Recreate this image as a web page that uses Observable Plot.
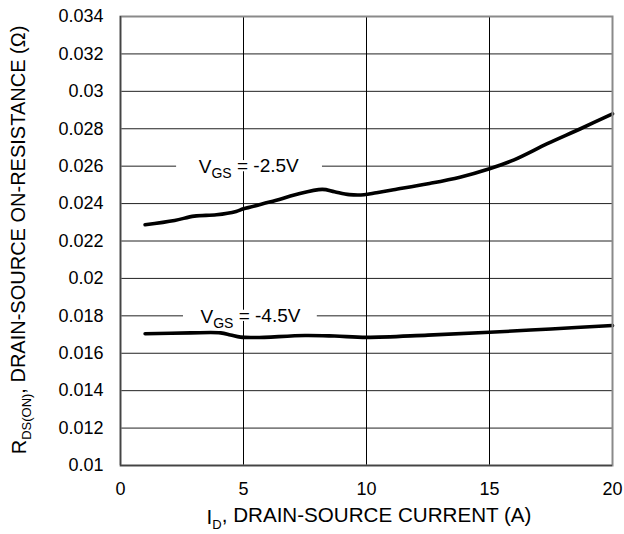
<!DOCTYPE html>
<html>
<head>
<meta charset="utf-8">
<script src="https://cdn.jsdelivr.net/npm/d3@7"></script>
<script src="https://cdn.jsdelivr.net/npm/@observablehq/plot@0.6"></script>
<style>
  html, body { margin: 0; padding: 0; background: #fff; }
  #chart { width: 624px; height: 534px; }
</style>
</head>
<body>
<div id="chart"></div>
<script>
// Drain current (A) and on-resistance (Ω) for VGS = -2.5 V
const id25 = [1.0, 2.2, 3.0, 3.9, 4.7, 5.0, 6.3, 7.1, 8.2, 8.7, 9.3, 9.9, 10.4, 11.1, 12.5, 13.8, 15.0, 16.0, 17.35, 18.7, 20.0];
const r25  = [0.02287, 0.0231, 0.02333, 0.0234, 0.02358, 0.02372, 0.02416, 0.02447, 0.02476, 0.02463, 0.02448, 0.02447, 0.02458, 0.02474, 0.02506, 0.02541, 0.02586, 0.02634, 0.0272, 0.028, 0.0288];

// Drain current (A) and on-resistance (Ω) for VGS = -4.5 V
const id45 = [1.0, 2.85, 4.07, 4.47, 4.88, 5.5, 7.5, 8.7, 10.0, 12.5, 15.0, 17.5, 20.0];
const r45  = [0.01704, 0.01709, 0.01709, 0.01698, 0.01686, 0.01684, 0.01695, 0.01692, 0.01685, 0.01697, 0.01712, 0.0173, 0.01748];

// Axis ticks
const xTicks = [0, 5, 10, 15, 20];
const yTicks = [0.01, 0.012, 0.014, 0.016, 0.018, 0.02, 0.022, 0.024, 0.026, 0.028, 0.03, 0.032, 0.034];
const yGrid  = [0.012, 0.014, 0.016, 0.018, 0.02, 0.022, 0.024, 0.026, 0.028, 0.03, 0.032];
const xGrid  = [5, 10, 15];

// Curve labels: text start, gridline they sit on, and the gap cut into that gridline
const labelText  = ["V{GS} = -2.5V", "V{GS} = -4.5V"];
const labelX     = [3.18, 3.25];
const labelY     = [0.026, 0.018];
const gapStart   = [2.28, 2.56];
const gapEnd     = [8.21, 8.0];

const series = [
  ...id25.map((x, i) => ({x, y: r25[i], vgs: "-2.5V"})),
  ...id45.map((x, i) => ({x, y: r45[i], vgs: "-4.5V"}))
];
const labels = labelText.map((t, i) => ({t, x: labelX[i], y: labelY[i], x1: gapStart[i], x2: gapEnd[i]}));

const font = "'Liberation Sans', Arial, Helvetica, sans-serif";

const chart = Plot.plot({
  width: 624,
  height: 534,
  marginTop: 16,
  marginBottom: 69,
  marginLeft: 120,
  marginRight: 12,
  style: {fontFamily: font, fontSize: "18px", color: "#000", background: "#fff"},
  x: {domain: [0, 20]},
  y: {domain: [0.01, 0.034]},
  marks: [
    Plot.gridY(yGrid, {stroke: "#222", strokeOpacity: 1, strokeWidth: 1}),
    Plot.gridX(xGrid, {stroke: "#000", strokeOpacity: 1, strokeWidth: 1}),
    Plot.rect(labels, {x1: "x1", x2: "x2", y1: d => d.y - 0.0003, y2: d => d.y + 0.0003, fill: "#fff"}),
    Plot.text(labels, {x: "x", y: "y", text: "t", textAnchor: "start", fontSize: 19, fill: "#000", dy: 1}),
    Plot.line(series, {x: "x", y: "y", z: "vgs", stroke: "#000", strokeWidth: 3.6, curve: "catmull-rom", strokeLinecap: "round"}),
    Plot.frame({stroke: "#8a8a8a", strokeWidth: 2}),
    Plot.ruleX([0], {stroke: "#444", strokeWidth: 1.5}),
    Plot.ruleY([0.01], {stroke: "#444", strokeWidth: 1.5}),
    Plot.axisX(xTicks, {tickSize: 0, tickPadding: 17, fontSize: 18, label: null}),
    Plot.axisY(yTicks, {tickSize: 0, tickPadding: 17, fontSize: 18, label: null,
      tickFormat: d => String(+d.toFixed(3))})
  ]
});

document.getElementById("chart").appendChild(chart);

const svg = d3.select(chart);

// Fill a text element with parts, where {..} marks a subscript
function rich(textSel, str, subSize) {
  textSel.text(null);
  const parts = str.split(/(\{[^}]*\})/).filter(s => s.length);
  let shifted = false;
  parts.forEach(p => {
    const sub = p.startsWith("{");
    const ts = textSel.append("tspan").text(sub ? p.slice(1, -1) : p);
    if (sub) {
      ts.attr("font-size", subSize).attr("dy", "0.35em");
      shifted = true;
    } else if (shifted) {
      ts.attr("dy", "-0.3em");
      shifted = false;
    }
  });
}

// Curve labels with subscripts
svg.selectAll("g[aria-label='text'] text").each(function() {
  const t = d3.select(this);
  rich(t, t.text(), 14);
});

// Axis titles
const xt = svg.append("text")
  .attr("x", 369).attr("y", 524)
  .attr("text-anchor", "middle")
  .attr("font-size", 20.6).attr("font-family", font).attr("fill", "#000");
rich(xt, "I{D}, DRAIN-SOURCE CURRENT (A)", 13);

const yt = svg.append("text")
  .attr("transform", "translate(26,240) rotate(-90)")
  .attr("text-anchor", "middle")
  .attr("font-size", 20).attr("font-family", font).attr("fill", "#000");
rich(yt, "R{DS(ON)}, DRAIN-SOURCE ON-RESISTANCE (Ω)", 13);
</script>
</body>
</html>
